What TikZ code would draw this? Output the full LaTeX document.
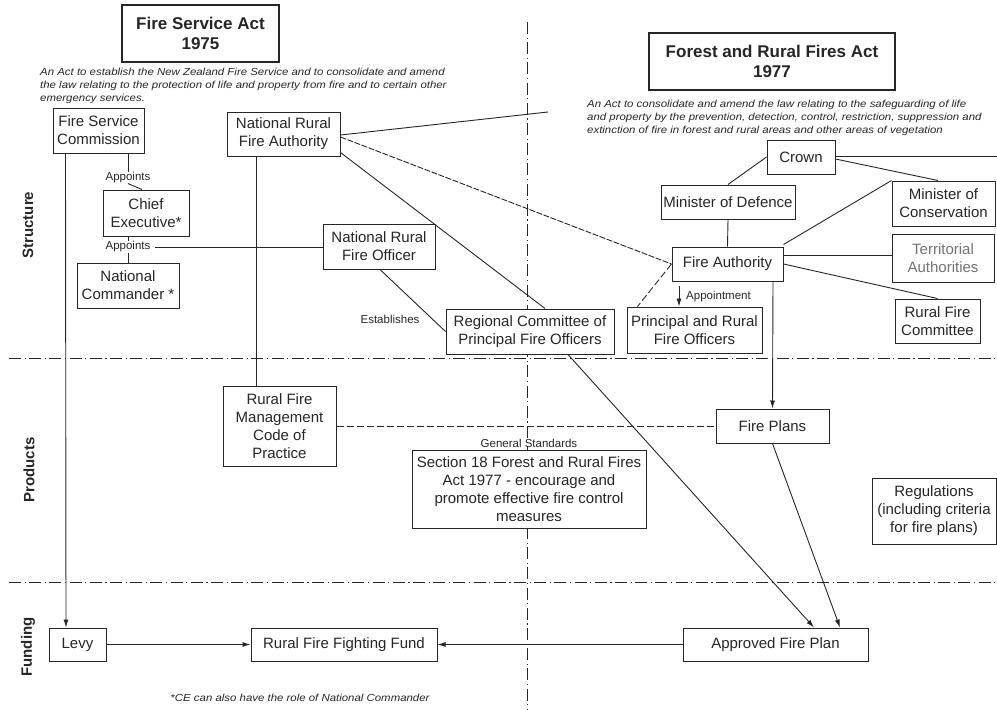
\documentclass[tikz,border=0pt]{standalone}
\usepackage{fontspec}
\setmainfont{Liberation Sans}
\newfontfamily\descfont[FakeStretch=1.12]{Liberation Sans}
\usetikzlibrary{arrows.meta}
\definecolor{ink}{HTML}{262626}
\begin{document}
\begin{tikzpicture}[x=1pt,y=-1pt,
 box/.style={draw=ink,fill=white,line width=1pt,align=center,inner sep=0pt,font=\fontsize{15}{18}\selectfont,text=ink},
 act/.style={draw=ink,fill=white,line width=1.1pt,align=center,inner sep=0pt,font=\fontsize{17}{19.5}\bfseries\selectfont,text=ink},
 conn/.style={draw=ink,line width=0.9pt},
 arr/.style={conn,-{Latex[length=8pt,width=5pt]}},
 fine/.style={conn,dash pattern=on 6pt off 1.5pt},
 dsh/.style={conn,dash pattern=on 7pt off 3pt},
 gridline/.style={draw=ink,line width=0.9pt,dash pattern=on 12pt off 3.5pt on 1.2pt off 3.5pt},
 lbl/.style={font=\fontsize{11.5}{13}\selectfont,text=ink,inner sep=0pt},
 desc/.style={font=\descfont\fontsize{10.2}{13}\itshape\selectfont,align=left,inner sep=0pt,anchor=north west,text=ink},
 rowlbl/.style={font=\fontsize{15}{17}\bfseries\selectfont,rotate=90,text=ink,inner sep=0pt},
]
\useasboundingbox (0,0) rectangle (997,710);
\fill[white] (0,0) rectangle (997,710);

% section grid
\coordinate (hl1) at (9,358);   \coordinate (hr1) at (997,358);
\coordinate (hl2) at (9,582);   \coordinate (hr2) at (997,582);
\coordinate (vt) at (527,22);   \coordinate (vb) at (527,710);
\draw[gridline] (hl1) -- (hr1);
\draw[gridline] (hl2) -- (hr2);
\draw[gridline] (vt) -- (vb);

% row labels
\node[rowlbl] (lstruct) at (28,225) {Structure};
\node[rowlbl] (lprod) at (29,470) {Products};
\node[rowlbl] (lfund) at (28,647) {Funding};

% acts
\node[act,minimum width=157pt,minimum height=57pt] (fsa) at (200.5,33.5) {Fire Service Act\\1975};
\node[act,minimum width=246pt,minimum height=57pt] (frfa) at (772,61.5) {Forest and Rural Fires Act\\1977};
\node[desc] (d1) at (40,68) {An Act to establish the New Zealand Fire Service and to consolidate and amend\\the law relating to the protection of life and property from fire and to certain other\\emergency services.};
\node[desc] (d2) at (587,100) {An Act to consolidate and amend the law relating to the safeguarding of life\\and property by the prevention, detection, control, restriction, suppression and\\extinction of fire in forest and rural areas and other areas of vegetation};

% structure boxes
\node[box,minimum width=91pt,minimum height=45pt] (fsc) at (98.5,130.5) {Fire Service\\Commission};
\node[box,minimum width=113pt,minimum height=44pt] (nrfa) at (283.5,134) {National Rural\\Fire Authority};
\node[box,minimum width=86pt,minimum height=46pt] (chief) at (146,213) {Chief\\Executive*};
\node[box,minimum width=102pt,minimum height=45pt] (natcom) at (128,285.5) {National\\Commander *};
\node[box,minimum width=112pt,minimum height=45pt] (nrfo) at (379,246.5) {National Rural\\Fire Officer};
\node[box,minimum width=168pt,minimum height=45pt] (rcpfo) at (530,331.5) {Regional Committee of\\Principal Fire Officers};
\node[box,minimum width=135pt,minimum height=46pt] (praf) at (694.5,330) {Principal and Rural\\Fire Officers};
\node[box,minimum width=68pt,minimum height=34pt] (crown) at (801,157) {Crown};
\node[box,minimum width=134pt,minimum height=34pt] (mod) at (728,202) {Minister of Defence};
\node[box,minimum width=103pt,minimum height=45pt] (moc) at (943.5,203.5) {Minister of\\Conservation};
\node[box,minimum width=111pt,minimum height=34pt] (fa) at (727.5,264) {Fire Authority};
\node[box,minimum width=102pt,minimum height=48pt,text=black!55] (ta) at (943,258) {Territorial\\Authorities};
\node[box,minimum width=85pt,minimum height=44pt] (rfc) at (937.5,321) {Rural Fire\\Committee};

% products
\node[box,minimum width=113pt,minimum height=80pt] (rfm) at (279.5,426) {Rural Fire\\Management\\Code of\\Practice};
\node[box,minimum width=113pt,minimum height=34pt] (fp) at (772.5,426) {Fire Plans};
\node[box,minimum width=234pt,minimum height=78pt] (s18) at (529,489) {Section 18 Forest and Rural Fires\\Act 1977 - encourage and\\promote effective fire control\\measures};
\node[box,minimum width=124pt,minimum height=66pt] (reg) at (934,511) {Regulations\\(including criteria\\for fire plans)};
\node[lbl] (gs) at (529,443) {General Standards};

% funding
\node[box,minimum width=57pt,minimum height=33pt] (levy) at (77.5,644.5) {Levy};
\node[box,minimum width=186pt,minimum height=33pt] (rfff) at (344,644.5) {Rural Fire Fighting Fund};
\node[box,minimum width=185pt,minimum height=33pt] (afp) at (775.5,644.5) {Approved Fire Plan};
\node[font=\descfont\fontsize{10.2}{12}\itshape\selectfont,text=ink,inner sep=0pt] (foot) at (300,698) {*CE can also have the role of National Commander};

% labels
\node[lbl] (ap1) at (128,178) {Appoints};
\node[lbl] (ap2) at (128,247) {Appoints};
\node[lbl] (est) at (390,319) {Establishes};
\node[lbl,anchor=west] (appt) at (686,297) {Appointment};

% connectors - left
\draw[arr] ([xshift=13pt]fsc.south west) -- ([xshift=17.5pt]levy.north west);
\draw[conn] ([xshift=29.5pt]fsc.south) -- (ap1.north);
\draw[conn] (ap1.south) -- ([xshift=-4pt]chief.north);
\draw[conn] ([xshift=-18pt]chief.south) -- (ap2.north);
\draw[conn] (ap2.south) -- (natcom.north);
\draw[conn] ([xshift=4pt]ap2.east) -- (ap2.east -| nrfo.west);
\draw[conn] ([xshift=30pt]nrfa.south west) -- ([xshift=34pt]rfm.north west);

% NRFA
\coordinate (nrfaend) at (548,112);
\draw[conn] ([yshift=-1pt]nrfa.east) -- (nrfaend);
\draw[fine] ([yshift=-3pt]nrfa.east) -- (fa.west);
\draw[conn] ([yshift=4pt]nrfa.south east) -- ([xshift=15pt]rcpfo.north);
\draw[conn] ([xshift=1pt]nrfo.south) -- (rcpfo.west);

% right structure
\coordinate (crownend) at (997,156);
\draw[conn] ([yshift=1pt]crown.east) -- (crownend);
\draw[conn] ([yshift=-2pt]crown.east) -- ([xshift=-5.5pt]moc.north);
\draw[conn] (crown.west) -- (mod.north);
\draw[conn] (mod.south) -- (fa.north);
\draw[conn] ([yshift=2pt]fa.north east) -- (moc.north west);
\draw[conn] ([yshift=9pt]fa.east) -- ([yshift=9pt]fa.east -| ta.west);
\draw[conn] (fa.east) -- (rfc.north);
\draw[dsh] (fa.west) -- ([xshift=11pt]praf.north west);
\draw[arr] ([xshift=-48.5pt,yshift=-4pt]fa.south) -- ([xshift=-15.5pt]praf.north);
\draw[arr] ([xshift=45.5pt]fa.south) -- (fp.north);

% products / funding
\draw[dsh] (rfm.east) -- (fp.west);
\draw[arr] ([xshift=38pt]rcpfo.south) -- ([xshift=38.5pt]afp.north);
\draw[arr] (fp.south) -- ([xshift=64.5pt]afp.north);
\draw[arr] (levy.east) -- (rfff.west);
\draw[arr] (afp.west) -- (rfff.east);
\end{tikzpicture}
\end{document}
